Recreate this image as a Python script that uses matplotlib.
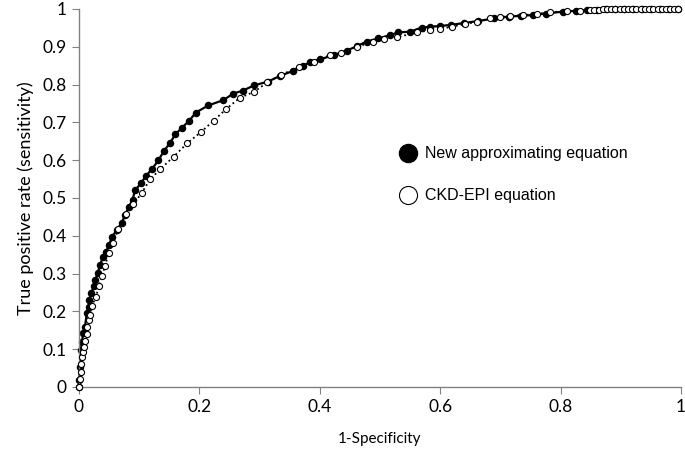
import matplotlib.pyplot as plt

# ROC curve points
new_x = [0, 0.0005, 0.002, 0.003, 0.005, 0.007, 0.010, 0.013, 0.016, 0.017,
         0.020, 0.025, 0.027, 0.031, 0.035, 0.040, 0.045, 0.050, 0.055, 0.063,
         0.071, 0.077, 0.083, 0.089, 0.093, 0.103, 0.111, 0.122, 0.132, 0.141,
         0.151, 0.160, 0.171, 0.183, 0.194, 0.215, 0.240, 0.256, 0.272, 0.291,
         0.314, 0.334, 0.355, 0.372, 0.384, 0.401, 0.423, 0.445, 0.462, 0.478,
         0.497, 0.517, 0.530, 0.550, 0.569, 0.583, 0.600, 0.618, 0.640, 0.662,
         0.690, 0.715, 0.735, 0.754, 0.775, 0.804, 0.825, 0.843, 0.860, 0.875,
         0.890, 0.905, 0.920, 0.935, 0.950, 0.965, 0.980, 0.995]
new_y = [0, 0.019, 0.054, 0.098, 0.120, 0.142, 0.160, 0.195, 0.212, 0.230,
         0.248, 0.267, 0.283, 0.301, 0.323, 0.345, 0.358, 0.376, 0.398, 0.415,
         0.435, 0.456, 0.477, 0.495, 0.520, 0.539, 0.558, 0.578, 0.600, 0.624,
         0.645, 0.668, 0.686, 0.704, 0.726, 0.745, 0.759, 0.776, 0.784, 0.798,
         0.808, 0.823, 0.836, 0.849, 0.860, 0.867, 0.878, 0.890, 0.902, 0.914,
         0.922, 0.931, 0.938, 0.940, 0.951, 0.953, 0.955, 0.958, 0.963, 0.968,
         0.975, 0.980, 0.982, 0.984, 0.988, 0.993, 0.995, 0.997, 0.998, 0.999,
         1.0, 1.0, 1.0, 1.0, 1.0, 1.0, 1.0, 1.0]

ckd_x = [0, 0.002, 0.003, 0.004, 0.005, 0.007, 0.008, 0.010, 0.013, 0.014,
         0.016, 0.018, 0.021, 0.028, 0.033, 0.039, 0.043, 0.050, 0.057, 0.065,
         0.078, 0.090, 0.104, 0.118, 0.135, 0.157, 0.180, 0.203, 0.224, 0.245,
         0.267, 0.291, 0.313, 0.335, 0.366, 0.390, 0.417, 0.436, 0.461, 0.489,
         0.506, 0.528, 0.561, 0.583, 0.600, 0.619, 0.641, 0.661, 0.683, 0.699,
         0.716, 0.738, 0.760, 0.782, 0.810, 0.832, 0.848, 0.856, 0.863, 0.870,
         0.877, 0.884, 0.891, 0.898, 0.905, 0.912, 0.919, 0.926, 0.933, 0.940,
         0.947, 0.954, 0.961, 0.968, 0.975, 0.982, 0.989, 0.995]
ckd_y = [0, 0.020, 0.040, 0.062, 0.080, 0.093, 0.107, 0.122, 0.139, 0.160,
         0.177, 0.190, 0.214, 0.237, 0.267, 0.294, 0.321, 0.355, 0.382, 0.417,
         0.457, 0.483, 0.513, 0.549, 0.576, 0.609, 0.645, 0.675, 0.705, 0.736,
         0.765, 0.781, 0.806, 0.826, 0.846, 0.861, 0.878, 0.883, 0.899, 0.914,
         0.920, 0.925, 0.938, 0.944, 0.947, 0.953, 0.960, 0.966, 0.975, 0.979,
         0.982, 0.984, 0.987, 0.991, 0.995, 0.996, 0.997, 0.998, 0.998, 0.999,
         0.999, 1.0, 1.0, 1.0, 1.0, 1.0, 1.0, 1.0, 1.0, 1.0,
         1.0, 1.0, 1.0, 1.0, 1.0, 1.0, 1.0, 1.0]

ticks = [0, 0.1, 0.2, 0.3, 0.4, 0.5, 0.6, 0.7, 0.8, 0.9, 1]
tick_labels = ['0', '0.1', '0.2', '0.3', '0.4', '0.5', '0.6', '0.7', '0.8', '0.9', '1']
xticks = [0, 0.2, 0.4, 0.6, 0.8, 1]
xtick_labels = ['0', '0.2', '0.4', '0.6', '0.8', '1']

fig = plt.figure(figsize=(6.85, 4.59), dpi=100)
ax = fig.add_axes([0.1153, 0.1569, 0.8789, 0.8235])

ax.plot(ckd_x, ckd_y, color='black', linestyle=':', linewidth=1.3,
        marker='o', markersize=4.4, markerfacecolor='white',
        markeredgecolor='black', markeredgewidth=0.8, clip_on=False, zorder=3)
ax.plot(new_x, new_y, color='black', linestyle='-', linewidth=1.6,
        marker='o', markersize=4.4, markerfacecolor='black',
        markeredgecolor='black', clip_on=False, zorder=2)

ax.set_xlim(0, 1)
ax.set_ylim(0, 1)
ax.set_xticks(xticks)
ax.set_xticklabels(xtick_labels)
ax.set_yticks(ticks)
ax.set_yticklabels(tick_labels)
ax.spines['top'].set_visible(False)
ax.spines['right'].set_visible(False)
for s in ['left', 'bottom']:
    ax.spines[s].set_color('#808080')
    ax.spines[s].set_linewidth(1.0)
ax.tick_params(direction='out', length=5, color='#808080', labelsize=12.5, pad=4)
for lab in ax.get_xticklabels() + ax.get_yticklabels():
    lab.set_family('Lato')

ax.set_xlabel('1-Specificity', family='Lato', fontsize=11, labelpad=12)
ax.set_ylabel('True positive rate (sensitivity)', family='Lato', fontsize=13, labelpad=6)

# legend markers and text
ax.plot([0.546], [0.618], 'o', color='black', markersize=13, clip_on=False)
ax.plot([0.546], [0.507], 'o', markerfacecolor='white', markeredgecolor='black',
        markersize=13, markeredgewidth=0.8, clip_on=False)
ax.text(0.574, 0.618, 'New approximating equation', family='Liberation Sans',
        fontsize=11.5, va='center')
ax.text(0.574, 0.507, 'CKD-EPI equation', family='Liberation Sans',
        fontsize=11.5, va='center')

fig.savefig('out.png', dpi=100)
